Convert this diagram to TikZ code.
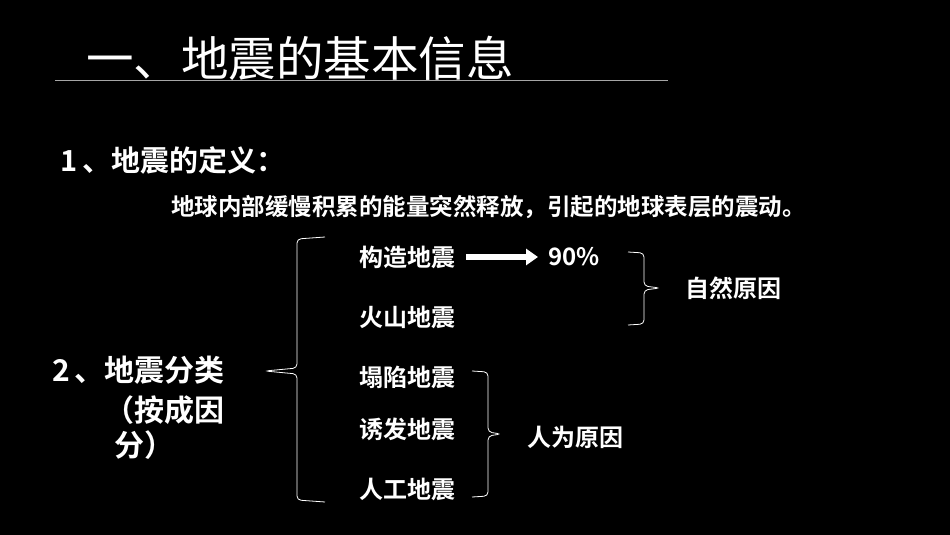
\documentclass[tikz,border=0pt]{standalone}
\usetikzlibrary{arrows.meta}
\usepackage{fontspec}
\newfontfamily\cjk{Noto Sans CJK SC}
\newfontfamily\cjkb{Noto Sans CJK SC Bold}
\begin{document}
\begin{tikzpicture}[x=1pt,y=-1pt,
  every node/.style={text=white,inner sep=0pt},
  item/.style={anchor=west,font=\cjkb\fontsize{24}{28}\selectfont},
  big/.style={anchor=west,font=\cjkb\fontsize{30}{34}\selectfont},
  brace/.style={draw=white,line width=0.8pt,rounded corners=4pt}]
\fill[black] (0,0) rectangle (950,535);
\useasboundingbox (0,0) rectangle (950,535);
\node[anchor=west,font=\cjk\fontsize{47.5}{52}\selectfont] (title) at (86,58) {一、地震的基本信息};
\draw[gray!70,line width=0.6pt] (55,80) -- (668,80);
\node[big,font=\cjkb\fontsize{29}{32}\selectfont] (def) at (60,160) {1\,、地震的定义：};
\node[anchor=west,font=\cjkb\fontsize{23.5}{26}\selectfont] (deftext) at (171,207) {地球内部缓慢积累的能量突然释放，引起的地球表层的震动。};
\node[item] (a) at (359,257) {构造地震};
\node[item] (b) at (359,317) {火山地震};
\node[item] (c) at (359,377) {塌陷地震};
\node[item] (d) at (359,429) {诱发地震};
\node[item] (e) at (359,489) {人工地震};
\node[item] (p) at (548,257) {90\%};
\node[item] (nat) at (685,288) {自然原因};
\node[item] (hum) at (527,437) {人为原因};
\node[big] (cls) at (52,370) {2\,、地震分类};
\node[big] (cls2) at (104,410) {（按成因};
\node[big] (cls3) at (114,445) {分）};
\coordinate (ae) at (466,257);
\coordinate (pe) at (538,257);
\draw[white,line width=6pt,-{Triangle[length=12pt,width=16pt]}] (ae) -- (pe);
\draw[brace] (325,237) -- (297,239) -- (297,368) -- (265,371) -- (297,374) -- (297,500) -- (325,502);
\draw[brace] (628,252) -- (644,253) -- (644,286) -- (660,288) -- (644,290) -- (644,324) -- (628,325);
\draw[brace] (472,371) -- (488,372) -- (488,432) -- (501,434) -- (488,436) -- (488,496) -- (472,497);
\end{tikzpicture}
\end{document}
